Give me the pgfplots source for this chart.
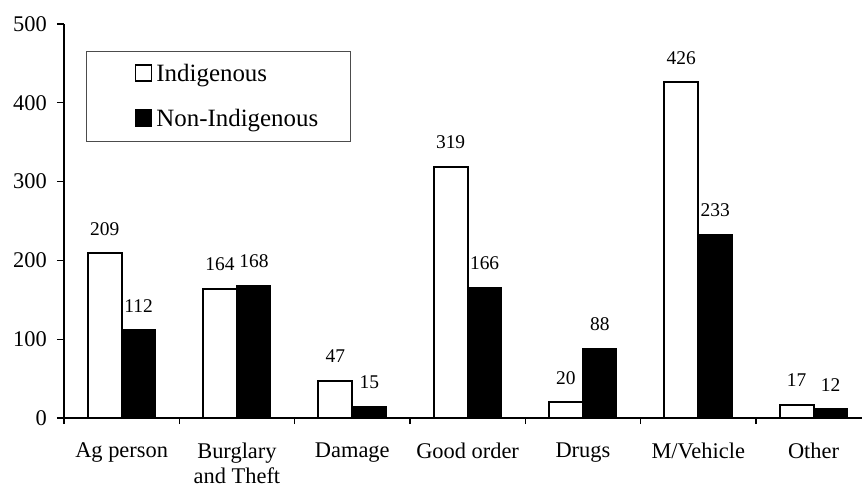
\documentclass[border=0pt]{standalone}
\usepackage{fontspec}
\setmainfont{Liberation Serif}
\usepackage{pgfplots}
\pgfplotsset{compat=1.18}
\begin{document}
\begin{tikzpicture}
\useasboundingbox (0,0) rectangle (862bp,487bp);
\begin{axis}[
  at={(64bp,69bp)}, anchor=south west,
  scale only axis,
  width=798bp, height=394bp,
  xmin=-0.5, xmax=6.42,
  ymin=0, ymax=500,
  clip=false,
  axis x line=bottom, axis y line=left,
  axis line style={-, line width=1.5bp},
  ytick={0,100,...,500},
  xtick={0,...,6},
  xticklabels={Ag person,{Burglary\\and Theft},Damage,Good order,Drugs,M/Vehicle,Other},
  minor xtick={-0.5,0.5,...,5.5},
  tick align=outside,
  major tick length=7bp,
  minor tick length=6bp,
  every tick/.style={black, line width=1.3bp},
  x tick style={draw=none},
  minor x tick style={draw=black, line width=1.3bp},
  /pgf/number format/assume math mode=true,
  yticklabel style={font=\fontsize{22.5}{26}\selectfont, inner sep=0pt, xshift=-10bp},
  xticklabel style={font=\fontsize{22.5}{24.5}\selectfont, align=center, inner sep=0pt, anchor=north, yshift=-18bp},
  ybar=0pt, bar width=34bp,
  nodes near coords,
  every node near coord/.append style={font=\fontsize{19.5}{22}\selectfont, inner sep=0pt, yshift=17bp, black},
  legend style={at={(0.0276,0.9315)}, anchor=north west, draw=black!70, line width=0.8bp,
    inner xsep=0pt, inner ysep=0pt, row sep=0pt, column sep=0pt,
    font=\fontsize{25}{30}\selectfont, nodes={inner sep=0pt}},
  legend cell align=left,
  legend image code/.code={\path[draw=none,fill=none] (0bp,-22.5bp) rectangle (70bp,22.5bp);
     \draw[#1, line width=1.5bp] (49bp,-7bp) rectangle (65bp,9bp);},
]
\addplot[draw=black, fill=white, line width=2bp] coordinates {(0,209) (1,164) (2,47) (3,319) (4,20) (5,426) (6,17)};
\addplot[draw=black, fill=black, line width=1bp] coordinates {(0,112) (1,168) (2,15) (3,166) (4,88) (5,233) (6,12)};
\legend{\makebox[194bp][l]{Indigenous},\makebox[194bp][l]{Non-Indigenous}}
\end{axis}
\end{tikzpicture}
\end{document}
